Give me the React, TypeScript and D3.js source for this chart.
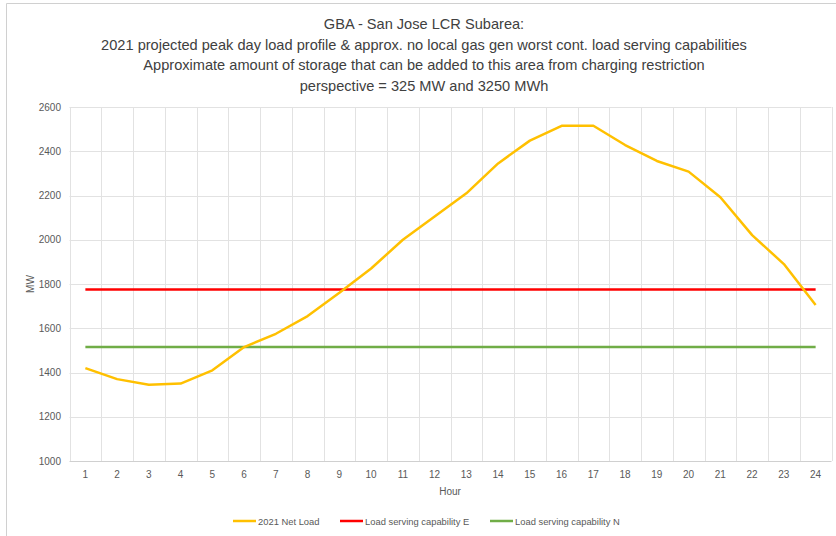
import { useEffect, useRef } from "react";
import * as d3 from "d3";

// data
const hours = d3.range(1, 25);
const netLoad = [1420, 1370, 1345, 1350, 1410, 1515, 1575, 1655, 1760, 1870, 2000, 2105,
    2210, 2345, 2448, 2515, 2515, 2428, 2356, 2308, 2192, 2021, 1890, 1705];
const capE = 1775;
const capN = 1515;
const yTicks = [1000, 1200, 1400, 1600, 1800, 2000, 2200, 2400, 2600];
const titleLines = [
    "GBA - San Jose LCR Subarea:",
    "2021 projected peak day load profile & approx. no local gas gen worst cont. load serving capabilities",
    "Approximate amount of storage that can be added to this area from charging restriction",
    "perspective = 325 MW and 3250 MWh",
];
const legendItems = [
    { label: "2021 Net Load", color: "#ffc000" },
    { label: "Load serving capability E", color: "#ff0000" },
    { label: "Load serving capability N", color: "#70ad47" },
];

const W = 836;
const H = 536;
const FONT = "'Liberation Sans', Arial, sans-serif";

export default function App() {
    const ref = useRef<SVGSVGElement>(null);

    useEffect(() => {
        const svg = d3.select(ref.current);
        svg.selectAll("*").remove();

        svg.append("rect").attr("width", W).attr("height", H).attr("fill", "white");
        // chart frame (only left/top visible in the crop)
        svg.append("path")
            .attr("d", `M6.5,${H} V3.5 H${W}`)
            .attr("fill", "none")
            .attr("stroke", "#d0d0d0");

        const left = 69.5, right = 831.5, top = 107, bottom = 461;

        const x = d3.scaleBand<number>()
            .domain(hours)
            .range([left, right]);
        const y = d3.scaleLinear()
            .domain([1000, 2600])
            .range([bottom, top]);

        const cx = (h: number) => (x(h) as number) + x.bandwidth() / 2;

        // titles
        svg.append("g")
            .selectAll("text")
            .data(titleLines)
            .join("text")
            .attr("x", 424)
            .attr("y", (d, i) => 29 + i * 20.7)
            .attr("text-anchor", "middle")
            .attr("font-family", FONT)
            .attr("font-size", 14.6)
            .attr("fill", "#404040")
            .text(d => d);

        // gridlines
        const grid = svg.append("g");
        grid.selectAll("line.h")
            .data(yTicks)
            .join("line")
            .attr("class", "h")
            .attr("x1", left).attr("x2", right)
            .attr("y1", d => Math.round(y(d)) + 0.5)
            .attr("y2", d => Math.round(y(d)) + 0.5)
            .attr("stroke", d => d === 1000 ? "#d0d0d0" : "#e2e2e2");
        const vx = [left, ...hours.map(h => (x(h) as number) + x.bandwidth())];
        grid.selectAll("line.v")
            .data(vx)
            .join("line")
            .attr("class", "v")
            .attr("x1", d => Math.round(d) + 0.5).attr("x2", d => Math.round(d) + 0.5)
            .attr("y1", top).attr("y2", bottom)
            .attr("stroke", "#e2e2e2");

        // y tick labels
        svg.append("g")
            .selectAll("text")
            .data(yTicks)
            .join("text")
            .attr("x", 61)
            .attr("y", d => y(d) + 3.5)
            .attr("text-anchor", "end")
            .attr("font-family", FONT)
            .attr("font-size", 10)
            .attr("fill", "#595959")
            .text(d => d);

        // x tick labels
        svg.append("g")
            .selectAll("text")
            .data(hours)
            .join("text")
            .attr("x", d => cx(d))
            .attr("y", 478)
            .attr("text-anchor", "middle")
            .attr("font-family", FONT)
            .attr("font-size", 10)
            .attr("fill", "#595959")
            .text(d => d);

        // axis titles
        svg.append("text")
            .attr("transform", `translate(34,${(top + bottom) / 2}) rotate(-90)`)
            .attr("text-anchor", "middle")
            .attr("font-family", FONT)
            .attr("font-size", 10)
            .attr("fill", "#595959")
            .text("MW");
        svg.append("text")
            .attr("x", 450)
            .attr("y", 495)
            .attr("text-anchor", "middle")
            .attr("font-family", FONT)
            .attr("font-size", 10)
            .attr("fill", "#595959")
            .text("Hour");

        // capability lines
        const flat = (v: number) => hours.map(() => v);
        const line = d3.line<number>()
            .x((d, i) => cx(hours[i]))
            .y(d => y(d));

        svg.append("path")
            .datum(flat(capE))
            .attr("fill", "none")
            .attr("stroke", "#ff0000")
            .attr("stroke-width", 2.5)
            .attr("d", line);
        svg.append("path")
            .datum(flat(capN))
            .attr("fill", "none")
            .attr("stroke", "#70ad47")
            .attr("stroke-width", 2.5)
            .attr("d", line);
        svg.append("path")
            .datum(netLoad)
            .attr("fill", "none")
            .attr("stroke", "#ffc000")
            .attr("stroke-width", 2.5)
            .attr("stroke-linejoin", "round")
            .attr("d", line);

        // legend
        const legendX = [233, 340, 490];
        const lg = svg.append("g")
            .selectAll("g")
            .data(legendItems)
            .join("g")
            .attr("transform", (d, i) => `translate(${legendX[i]},521)`);
        lg.append("line")
            .attr("x1", 0).attr("x2", 23)
            .attr("stroke", d => d.color)
            .attr("stroke-width", 2.5);
        lg.append("text")
            .attr("x", 25)
            .attr("y", 3.5)
            .attr("font-family", FONT)
            .attr("font-size", 9.4)
            .attr("fill", "#595959")
            .text(d => d.label);
    }, []);

    return (
        <svg ref={ref} width={W} height={H}
            style={{ position: "absolute", left: 0, top: 0, display: "block" }} />
    );
}
